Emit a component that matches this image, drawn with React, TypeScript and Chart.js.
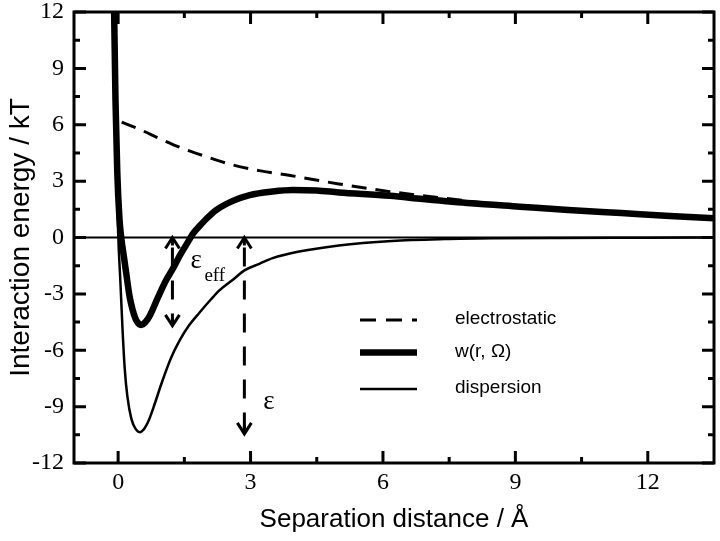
import React, { useEffect, useRef } from "react";
import { Chart, registerables } from "chart.js";

Chart.register(...registerables);

// ---- axes ----
const X_MIN = -1;
const X_MAX = 13.5;
const Y_MIN = -12;
const Y_MAX = 12;
const X_TICKS = [0, 3, 6, 9, 12];
const X_MINOR = [1.5, 4.5, 7.5, 10.5];
const Y_TICKS = [-12, -9, -6, -3, 0, 3, 6, 9, 12];
const Y_MINOR = [-10.5, -7.5, -4.5, -1.5, 1.5, 4.5, 7.5, 10.5];
const X_TITLE = "Separation distance / Å";
const Y_TITLE = "Interaction energy / kT";

// ---- series ----
const ELEC_X = [0.08, 0.5, 1.0, 1.46, 2.0, 2.6, 3.2, 3.9, 5.0, 6.16, 7.0, 8.0, 9.34, 10.5, 11.5, 12.5, 13.5];
const ELEC_Y = [6.14, 5.74, 5.2, 4.74, 4.3, 3.86, 3.56, 3.3, 2.85, 2.44, 2.2, 1.92, 1.62, 1.43, 1.3, 1.16, 1.04];

const W_X = [-0.1, -0.06, -0.02, 0.03, 0.07, 0.12, 0.18, 0.26, 0.33, 0.41, 0.52, 0.62, 0.72, 0.9, 1.08, 1.23, 1.4, 1.61, 1.7, 1.84, 2.0, 2.22, 2.6, 2.98, 3.5, 3.96, 4.5, 5.0, 6.16, 6.9, 8.0, 9.1, 10.2, 11.4, 12.5, 13.5];
const W_Y = [13.5, 7.3, 3.5, 1.0, 0.0, -0.85, -1.85, -3.15, -3.86, -4.4, -4.65, -4.5, -4.15, -3.2, -2.3, -1.7, -0.95, -0.13, 0.22, 0.6, 1.0, 1.46, 1.95, 2.26, 2.45, 2.53, 2.5, 2.4, 2.22, 2.05, 1.82, 1.64, 1.46, 1.3, 1.15, 1.03];

const DISP_X = [-0.09, -0.06, -0.03, 0.0, 0.05, 0.1, 0.15, 0.21, 0.3, 0.4, 0.49, 0.6, 0.7, 0.8, 1.0, 1.2, 1.4, 1.6, 1.85, 2.1, 2.3, 2.6, 2.86, 3.2, 3.5, 4.1, 5.0, 6.2, 7.4, 8.5, 10.0, 12.0, 13.5];
const DISP_Y = [13.5, 7.3, 3.5, 0.3, -2.3, -4.9, -7.0, -8.47, -9.65, -10.2, -10.36, -10.15, -9.7, -9.05, -7.65, -6.4, -5.45, -4.7, -3.98, -3.3, -2.8, -2.25, -1.75, -1.4, -1.1, -0.75, -0.42, -0.18, -0.08, -0.04, -0.02, -0.01, 0.0];

const ZERO_X = [X_MIN, X_MAX];
const ZERO_Y = [0, 0];

// ---- annotations ----
const ARROW_X = [1.23, 2.86];
const ARROW_TOP = [0, 0];
const ARROW_BOTTOM = [-4.7, -10.45];
const LEGEND_LABELS = ["electrostatic", "w(r, Ω)", "dispersion"];

const toPts = (xs: number[], ys: number[]) => xs.map((x, i) => ({ x, y: ys[i] }));

const SANS = '"Liberation Sans", Arial, sans-serif';
const SERIF = '"Liberation Serif", "Times New Roman", serif';

const decorPlugin = {
  id: "decor",
  afterDatasetsDraw(chart: any) {
    const ctx = chart.ctx as CanvasRenderingContext2D;
    const xs = chart.scales.x;
    const ys = chart.scales.y;
    ctx.save();
    ctx.strokeStyle = "#000";
    ctx.fillStyle = "#000";
    ctx.lineWidth = 3;
    // arrows
    ARROW_X.forEach((xv, i) => {
      const px = xs.getPixelForValue(xv);
      const p1 = ys.getPixelForValue(ARROW_TOP[i]);
      const p2 = ys.getPixelForValue(ARROW_BOTTOM[i]);
      ctx.setLineDash([19, 14]);
      ctx.lineDashOffset = -6;
      ctx.beginPath();
      ctx.moveTo(px, p1 + 4);
      ctx.lineTo(px, p2 - 4);
      ctx.stroke();
      ctx.setLineDash([]);
      ctx.beginPath();
      ctx.moveTo(px - 7, p1 + 11);
      ctx.lineTo(px, p1);
      ctx.lineTo(px + 7, p1 + 11);
      ctx.moveTo(px - 7, p2 - 11);
      ctx.lineTo(px, p2);
      ctx.lineTo(px + 7, p2 - 11);
      ctx.stroke();
      ctx.beginPath();
      ctx.moveTo(px, p1);
      ctx.lineTo(px, p1 + 8);
      ctx.moveTo(px, p2);
      ctx.lineTo(px, p2 - 8);
      ctx.stroke();
    });
    // arrow labels
    const ax0 = xs.getPixelForValue(ARROW_X[0]);
    const ay0 = ys.getPixelForValue(ARROW_TOP[0]);
    ctx.textAlign = "left";
    ctx.textBaseline = "alphabetic";
    ctx.font = `27px ${SERIF}`;
    ctx.fillText("ε", ax0 + 18, ay0 + 30);
    ctx.font = `19px ${SERIF}`;
    ctx.fillText("eff", ax0 + 32, ay0 + 43);
    const ax1 = xs.getPixelForValue(ARROW_X[1]);
    const ay1 = ys.getPixelForValue(ARROW_BOTTOM[1]);
    ctx.font = `27px ${SERIF}`;
    ctx.fillText("ε", ax1 + 19, ay1 - 25);

    // legend
    const styles = [
      { w: 3, dash: [16, 10] },
      { w: 6.5, dash: [] as number[] },
      { w: 2.5, dash: [] as number[] },
    ];
    const rowY = [320, 352.5, 389];
    ctx.font = `19px ${SANS}`;
    ctx.textBaseline = "middle";
    LEGEND_LABELS.forEach((lab, i) => {
      ctx.lineWidth = styles[i].w;
      ctx.setLineDash(styles[i].dash);
      ctx.lineDashOffset = 0;
      ctx.beginPath();
      ctx.moveTo(360, rowY[i]);
      ctx.lineTo(417, rowY[i]);
      ctx.stroke();
      ctx.setLineDash([]);
      ctx.fillText(lab, 455, rowY[i] - 1);
    });
    ctx.restore();
  },
  afterDraw(chart: any) {
    const ctx = chart.ctx as CanvasRenderingContext2D;
    const { left, right, top, bottom } = chart.chartArea;
    const xs = chart.scales.x;
    const ys = chart.scales.y;
    ctx.save();
    ctx.strokeStyle = "#000";
    ctx.lineWidth = 3;
    ctx.setLineDash([]);
    ctx.strokeRect(left, top, right - left, bottom - top);
    ctx.beginPath();
    const tickX = (v: number, len: number) => {
      const px = xs.getPixelForValue(v);
      ctx.moveTo(px, bottom);
      ctx.lineTo(px, bottom - len);
      ctx.moveTo(px, top);
      ctx.lineTo(px, top + len);
    };
    const tickY = (v: number, len: number) => {
      const py = ys.getPixelForValue(v);
      ctx.moveTo(left, py);
      ctx.lineTo(left + len, py);
      ctx.moveTo(right, py);
      ctx.lineTo(right - len, py);
    };
    X_TICKS.forEach((v) => tickX(v, 12));
    X_MINOR.forEach((v) => tickX(v, 6));
    Y_TICKS.forEach((v) => tickY(v, 12));
    Y_MINOR.forEach((v) => tickY(v, 6));
    ctx.stroke();
    ctx.restore();
  },
};

export default function App() {
  const ref = useRef<HTMLCanvasElement | null>(null);
  useEffect(() => {
    if (!ref.current) return;
    const chart = new Chart(ref.current, {
      type: "line",
      data: {
        datasets: [
          {
            label: "w(r, Ω)",
            data: toPts(W_X, W_Y),
            borderColor: "#000",
            borderWidth: 6.5,
            pointRadius: 0,
            cubicInterpolationMode: "monotone",
            clip: 0,
            order: 1,
          } as any,
          {
            label: "dispersion",
            data: toPts(DISP_X, DISP_Y),
            borderColor: "#000",
            borderWidth: 2.5,
            pointRadius: 0,
            cubicInterpolationMode: "monotone",
            clip: 0,
            order: 2,
          },
          {
            label: "electrostatic",
            data: toPts(ELEC_X, ELEC_Y),
            borderColor: "#000",
            borderWidth: 3,
            borderDash: [15, 9],
            pointRadius: 0,
            cubicInterpolationMode: "monotone",
            clip: 0,
            order: 3,
          },
          {
            label: "zero",
            data: toPts(ZERO_X, ZERO_Y),
            borderColor: "#000",
            borderWidth: 2,
            pointRadius: 0,
            clip: 0,
            order: 4,
          },
        ],
      },
      options: {
        responsive: false,
        animation: false,
        devicePixelRatio: 1,
        layout: { padding: { left: 0, right: 6, top: 12, bottom: 0 } },
        plugins: { legend: { display: false }, tooltip: { enabled: false } },
        scales: {
          x: {
            type: "linear",
            min: X_MIN,
            max: X_MAX,
            afterBuildTicks: (s: any) => {
              s.ticks = X_TICKS.map((v) => ({ value: v }));
            },
            afterFit: (s: any) => {
              s.height = 78;
              s.paddingLeft = 0;
              s.paddingRight = 0;
            },
            grid: { display: false, drawTicks: false },
            border: { display: false },
            ticks: {
              color: "#000",
              font: { family: SERIF, size: 24 },
              padding: 5,
              maxRotation: 0,
              autoSkip: false,
            },
            title: {
              display: true,
              text: X_TITLE,
              color: "#000",
              font: { family: SANS, size: 26 },
              padding: { top: 0, bottom: 6 },
            },
          },
          y: {
            type: "linear",
            min: Y_MIN,
            max: Y_MAX,
            afterBuildTicks: (s: any) => {
              s.ticks = Y_TICKS.map((v) => ({ value: v }));
            },
            afterFit: (s: any) => {
              s.width = 74;
              s.paddingTop = 0;
              s.paddingBottom = 0;
            },
            grid: { display: false, drawTicks: false },
            border: { display: false },
            ticks: {
              color: "#000",
              font: { family: SERIF, size: 24 },
              padding: 10,
              autoSkip: false,
            },
            title: {
              display: true,
              text: Y_TITLE,
              color: "#000",
              font: { family: SANS, size: 28 },
              padding: { top: 4, bottom: 0 },
            },
          },
        },
      },
      plugins: [decorPlugin],
    });
    return () => chart.destroy();
  }, []);
  return (
    <div style={{ position: "absolute", left: 0, top: 0, width: 720, height: 541, background: "#fff" }}>
      <canvas ref={ref} width={720} height={541} style={{ display: "block" }} />
    </div>
  );
}
